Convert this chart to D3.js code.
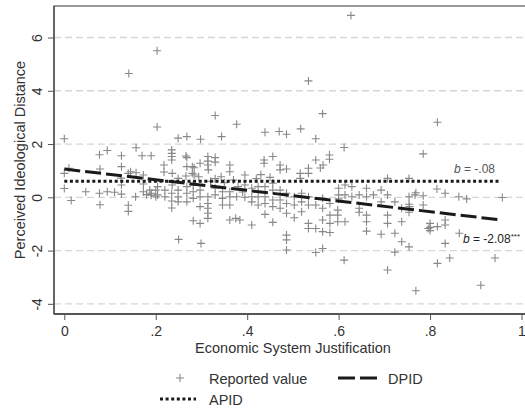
<!DOCTYPE html>
<html>
<head>
<meta charset="utf-8">
<script src="https://cdn.jsdelivr.net/npm/d3@7"></script>
<style>
  body { margin: 0; background: #fff; }
  svg text { font-family: "Liberation Sans", Arial, sans-serif; }
</style>
</head>
<body>
<div id="screen"></div>
<script>
// x ticks / y ticks as shown on the axes
var xTicks = [0, 0.2, 0.4, 0.6, 0.8, 1];
var xTickLabels = ["0", ".2", ".4", ".6", ".8", "1"];
var yTicks = [-4, -2, 0, 2, 4, 6];
var yTickLabels = ["-4", "-2", "0", "2", "4", "6"];

// fitted lines (end points)
var apidLine = [[0, 0.6], [0.955, 0.6]];
var dpidLine = [[0, 1.06], [0.955, -0.85]];
var apidSlope = "-.08";
var dpidSlope = "-2.08";

// reported values: [economic system justification, perceived ideological distance]
var reported = [
  [0,2.2],[0,0.9],[0,0.33],[0.01,1.09],[0.015,-0.12],[0.047,0.21],
  [0.077,1.6],[0.094,1.76],[0.078,1.06],[0.077,0.15],[0.078,-0.28],[0.094,0.21],[0.11,0.19],
  [0.125,1.56],[0.125,1.15],[0.125,0.46],[0.125,0.12],[0.124,0.72],[0.14,0.9],[0.14,-0.3],
  [0.14,-0.53],[0.141,4.65],[0.145,0.96],[0.157,1.86],[0.157,0.92],[0.156,0.02],[0.17,1.56],
  [0.173,0.84],[0.173,0.5],[0.173,0.21],[0.18,0.1],[0.19,1.56],[0.19,0.15],[0.19,0.08],
  [0.187,0.27],[0.203,5.5],[0.203,2.64],[0.2,0.27],[0.2,0.02],[0.204,0.09],[0.204,0.4],
  [0.218,1.21],[0.218,0.95],[0.22,0.27],[0.22,0.02],[0.235,1.78],[0.235,1.65],[0.235,1.53],
  [0.235,1.4],[0.236,0.9],[0.236,0.46],[0.235,0.15],[0.235,-0.14],[0.235,-0.4],[0.249,2.22],
  [0.249,0.71],[0.249,0.27],[0.249,0.02],[0.249,-0.17],[0.25,-1.58],
  [0.266,1.55],[0.268,2.28],[0.268,1.49],[0.268,1.15],[0.266,0.8],[0.268,0.4],[0.268,0.15],
  [0.268,-0.17],[0.28,1.15],[0.28,0.9],[0.282,0.46],[0.282,0.21],[0.282,-0.04],[0.282,-0.88],
  [0.284,1.11],[0.284,0.84],[0.294,0.77],[0.297,1.28],[0.297,0.27],[0.297,0.02],[0.297,-0.35],
  [0.297,-0.98],[0.298,2.18],[0.299,-1.73],
  [0.314,1.53],[0.314,1.36],[0.314,1.21],[0.315,1.03],[0.314,0.02],[0.314,-0.23],[0.314,-0.41],
  [0.314,-0.6],[0.314,-0.79],[0.33,3.07],[0.33,1.49],[0.33,1.32],[0.33,0.34],[0.33,0.09],
  [0.343,0.77],[0.344,2.28],[0.346,0.21],[0.346,-0.04],[0.346,-0.29],[0.362,1.21],[0.362,0.96],
  [0.362,0.21],[0.362,0.02],[0.362,-0.29],[0.362,-0.85],[0.375,-0.79],[0.377,2.74],[0.377,0.02],
  [0.384,-0.85],[0.395,0.84],[0.395,0.46],[0.395,0.0],
  [0.32,0.6],[0.35,0.55],[0.38,0.4],[0.39,0.2],[0.33,0.7],[0.37,0.65],
  [0.41,0.34],[0.41,0.02],[0.41,-0.17],[0.41,-1.04],[0.424,0.4],[0.424,0.02],[0.424,-0.29],
  [0.437,1.4],[0.437,1.28],[0.439,2.44],[0.439,0.4],[0.439,0.02],[0.439,-0.23],[0.439,-0.64],
  [0.456,1.53],[0.456,0.53],[0.456,0.27],[0.456,-0.1],[0.456,-0.35],[0.456,-0.94],[0.47,2.47],
  [0.472,1.21],[0.472,1.03],[0.472,0.27],[0.472,-0.1],[0.472,-0.41],[0.486,2.37],[0.486,1.06],
  [0.486,0.15],[0.486,-0.23],[0.486,-0.6],[0.486,-1.42],[0.486,-1.6],[0.486,-1.98],
  [0.42,0.7],[0.43,0.85],[0.45,0.75],
  [0.503,0.02],[0.503,-0.29],[0.503,-0.77],[0.516,0.9],[0.516,0.71],[0.517,2.57],[0.519,0.15],
  [0.519,-0.17],[0.519,-0.54],[0.534,4.37],[0.534,1.09],[0.534,0.9],[0.534,0.02],[0.534,-0.29],
  [0.534,-0.98],[0.534,-1.17],[0.55,2.2],[0.55,1.4],[0.55,-0.29],[0.55,-1.17],[0.55,-2.07],
  [0.56,1.1],[0.565,3.14],[0.566,1.21],[0.565,-0.04],[0.565,-0.41],[0.565,-0.85],[0.565,-1.29],
  [0.565,-1.92],[0.58,1.59],[0.58,1.43],[0.581,-0.23],[0.581,-0.67],[0.581,-0.98],[0.581,-1.32],
  [0.598,-0.48],[0.598,-0.67],[0.598,-0.92],[0.6,0.34],[0.6,0.09],[0.6,-0.06],
  [0.612,1.87],[0.612,-2.36],[0.614,0.46],[0.614,0.09],[0.614,-0.92],[0.627,6.83],[0.629,0.4],
  [0.629,0.02],[0.645,0.09],[0.645,-0.41],[0.645,-0.56],[0.661,0.34],[0.661,0.02],[0.661,-0.67],
  [0.661,-0.92],[0.661,-1.27],[0.676,0.09],[0.693,0.27],[0.693,-0.17],[0.693,-1.39],
  [0.707,0.71],[0.707,0.09],[0.707,-0.67],[0.707,-0.98],[0.707,-2.73],[0.723,-0.17],[0.723,-1.35],
  [0.723,-2.06],[0.738,-0.41],[0.738,-0.92],[0.738,-1.67],[0.754,0.71],[0.754,0.02],[0.754,-0.26],
  [0.754,-0.56],[0.754,-1.86],[0.767,0.09],[0.769,-3.51],[0.785,1.63],[0.785,0.06],[0.785,-0.29],
  [0.796,-1.17],[0.755,-0.35],[0.769,0.17],
  [0.8,-0.98],[0.8,-1.13],[0.8,-1.25],[0.815,0.31],[0.816,2.82],[0.816,-1.1],[0.816,-2.48],
  [0.833,0.15],[0.833,-0.85],[0.833,-1.04],[0.833,-1.73],[0.843,-2.28],[0.863,0.02],[0.88,-0.06],
  [0.864,-1.35],[0.911,-3.3],[0.942,-2.28],[0.958,-0.01]
];

var width = 525, height = 412;
var frame = {left: 54, top: 6, bottom: 314, right: 530};
var labelSize = 14.5;

var svg = d3.select("#screen").append("svg")
    .attr("width", width).attr("height", height);

var x = d3.scaleLinear().domain([0, 1]).range([64.3, 521.5]);
var y = d3.scaleLinear().domain([0, 6]).range([197.3, 37.5]);

// gridlines
svg.append("g").selectAll("line").data(yTicks).enter().append("line")
    .attr("x1", frame.left).attr("x2", width)
    .attr("y1", d => y(d)).attr("y2", d => y(d))
    .attr("stroke", "#d6d6d6").attr("stroke-width", 1.3)
    .attr("stroke-dasharray", "7,4");

// plot region outline
svg.append("rect")
    .attr("x", frame.left).attr("y", frame.top)
    .attr("width", frame.right - frame.left).attr("height", frame.bottom - frame.top)
    .attr("fill", "none").attr("stroke", "#555").attr("stroke-width", 1.2);

// y axis
var yAxis = svg.append("g")
    .attr("transform", "translate(" + frame.left + ",0)")
    .call(d3.axisLeft(y).tickValues(yTicks).tickSize(6).tickFormat((d, i) => yTickLabels[i]));
yAxis.select(".domain").attr("stroke", "#555").attr("stroke-width", 1.5)
    .attr("d", "M0," + frame.top + "V" + frame.bottom);
yAxis.selectAll(".tick line").attr("stroke", "#555");
yAxis.selectAll(".tick text")
    .attr("font-size", 14).attr("fill", "#333")
    .attr("transform", "rotate(-90)")
    .attr("x", 0).attr("y", -12).attr("dy", 0)
    .attr("text-anchor", "middle");

// x axis
var xAxis = svg.append("g")
    .attr("transform", "translate(0," + frame.bottom + ")")
    .call(d3.axisBottom(x).tickValues(xTicks).tickSize(6).tickFormat((d, i) => xTickLabels[i]));
xAxis.select(".domain").attr("stroke", "#555").attr("stroke-width", 1.8)
    .attr("d", "M" + frame.left + ",0H" + width);
xAxis.selectAll(".tick line").attr("stroke", "#555");
xAxis.selectAll(".tick text")
    .attr("font-size", 14).attr("fill", "#333").attr("y", 12).attr("dy", "0.71em");

// axis titles
svg.append("text")
    .attr("x", 293).attr("y", 352.5)
    .attr("text-anchor", "middle").attr("font-size", labelSize).attr("fill", "#333")
    .text("Economic System Justification");
svg.append("text")
    .attr("transform", "translate(25,160) rotate(-90)")
    .attr("text-anchor", "middle").attr("font-size", labelSize).attr("fill", "#333")
    .text("Perceived Ideological Distance");

// scatter of reported values as "+" markers
var plus = "M-4,0H4M0,-4V4";
svg.append("g").selectAll("path").data(reported).enter().append("path")
    .attr("d", plus)
    .attr("transform", d => "translate(" + x(d[0]) + "," + y(d[1]) + ")")
    .attr("fill", "none").attr("stroke", "#888").attr("stroke-width", 1.1);

var line = d3.line().x(d => x(d[0])).y(d => y(d[1]));

svg.append("path").datum(apidLine)
    .attr("d", line)
    .attr("fill", "none").attr("stroke", "#1a1a1a")
    .attr("stroke-width", 3).attr("stroke-dasharray", "3,2.6");

svg.append("path").datum(dpidLine)
    .attr("d", line)
    .attr("fill", "none").attr("stroke", "#1a1a1a")
    .attr("stroke-width", 3).attr("stroke-dasharray", "16,5");

// slope labels
var lab1 = svg.append("text")
    .attr("x", 454).attr("y", 173)
    .attr("font-size", 12).attr("fill", "#555");
lab1.append("tspan").attr("font-style", "italic").text("b");
lab1.append("tspan").text(" = " + apidSlope);

var lab2 = svg.append("text")
    .attr("x", 463).attr("y", 243)
    .attr("font-size", 12).attr("fill", "#222");
lab2.append("tspan").attr("font-style", "italic").text("b");
lab2.append("tspan").text(" = " + dpidSlope);
lab2.append("tspan").attr("font-size", 8).attr("dy", -4).text("***");

// legend
var legend = svg.append("g");
legend.append("path")
    .attr("d", plus)
    .attr("transform", "translate(180,378)")
    .attr("fill", "none").attr("stroke", "#888").attr("stroke-width", 1.1);
legend.append("text").attr("x", 209).attr("y", 384)
    .attr("font-size", labelSize).attr("fill", "#333").text("Reported value");
legend.append("line")
    .attr("x1", 338).attr("x2", 378).attr("y1", 378).attr("y2", 378)
    .attr("stroke", "#1a1a1a").attr("stroke-width", 3).attr("stroke-dasharray", "17,5");
legend.append("text").attr("x", 388).attr("y", 384)
    .attr("font-size", labelSize).attr("fill", "#333").text("DPID");
legend.append("line")
    .attr("x1", 160).attr("x2", 196).attr("y1", 399).attr("y2", 399)
    .attr("stroke", "#1a1a1a").attr("stroke-width", 3).attr("stroke-dasharray", "3,2.6");
legend.append("text").attr("x", 209).attr("y", 405)
    .attr("font-size", labelSize).attr("fill", "#333").text("APID");
</script>
</body>
</html>
